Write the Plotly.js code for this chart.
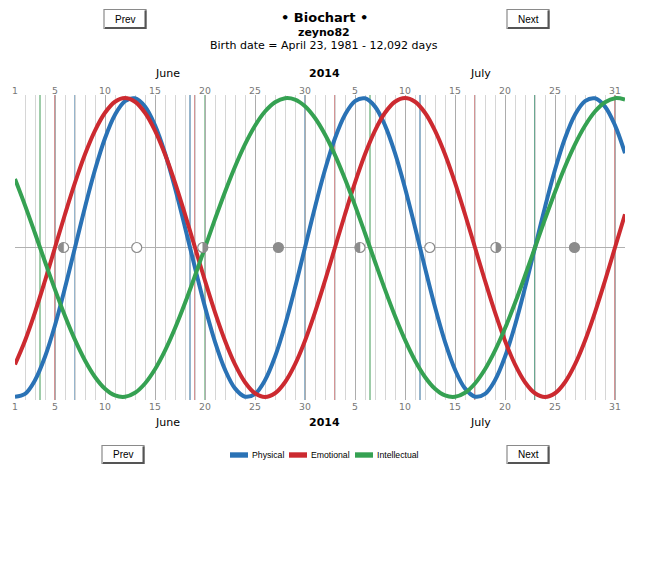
<!DOCTYPE html>
<html>
<head>
<meta charset="utf-8">
<script src="https://cdn.plot.ly/plotly-3.0.1.min.js"></script>
<style>
  html, body { margin: 0; padding: 0; background: #ffffff; }
  #chart { width: 645px; height: 578px; }
</style>
</head>
<body>
<div id="chart"></div>
<script>
// ---------- data ----------
const START_DATE = '2014-06-01';
const DAY_COUNT = 62; // June 1 .. August 1

const physical = [-0.9977,-0.9791,-0.8879,-0.7308,-0.5197,-0.2698,0,0.2698,0.5197,0.7308,0.8879,0.9791,0.9977,0.9423,0.8170,0.6311,0.3984,0.1362,-0.1362,-0.3984,-0.6311,-0.8170,-0.9423,-0.9977,
  -0.9791,-0.8879,-0.7308,-0.5197,-0.2698,0,0.2698,0.5197,0.7308,0.8879,0.9791,0.9977,0.9423,0.8170,0.6311,0.3984,0.1362,-0.1362,-0.3984,-0.6311,-0.8170,-0.9423,-0.9977,
  -0.9791,-0.8879,-0.7308,-0.5197,-0.2698,0,0.2698,0.5197,0.7308,0.8879,0.9791,0.9977,0.9423,0.8170,0.6311];

const emotional = [-0.7818,-0.6235,-0.4339,-0.2225,0,0.2225,0.4339,0.6235,0.7818,0.9010,0.9749,1,0.9749,0.9010,0.7818,0.6235,0.4339,0.2225,0,-0.2225,-0.4339,-0.6235,-0.7818,-0.9010,-0.9749,-1,-0.9749,-0.9010,
  -0.7818,-0.6235,-0.4339,-0.2225,0,0.2225,0.4339,0.6235,0.7818,0.9010,0.9749,1,0.9749,0.9010,0.7818,0.6235,0.4339,0.2225,0,-0.2225,-0.4339,-0.6235,-0.7818,-0.9010,-0.9749,-1,-0.9749,-0.9010,
  -0.7818,-0.6235,-0.4339,-0.2225,0,0.2225];

const intellectual = [0.4582,0.2817,0.0951,-0.0951,-0.2817,-0.4582,-0.6182,-0.7557,-0.8660,-0.9450,-0.9898,-0.9989,-0.9718,-0.9096,-0.8146,-0.6901,-0.5406,-0.3717,-0.1893,0,0.1893,0.3717,0.5406,0.6901,0.8146,0.9096,0.9718,0.9989,0.9898,0.9450,0.8660,0.7557,0.6182,
  0.4582,0.2817,0.0951,-0.0951,-0.2817,-0.4582,-0.6182,-0.7557,-0.8660,-0.9450,-0.9898,-0.9989,-0.9718,-0.9096,-0.8146,-0.6901,-0.5406,-0.3717,-0.1893,0,0.1893,0.3717,0.5406,0.6901,0.8146,0.9096,0.9718,0.9989,0.9898];

const seriesNames = ['Physical', 'Emotional', 'Intellectual'];

const physicalCritical = ['2014-06-07', '2014-06-18 12:00', '2014-06-30', '2014-07-11 12:00', '2014-07-23'];
const emotionalCritical = ['2014-06-05', '2014-06-19', '2014-07-03', '2014-07-17', '2014-07-31'];
const intellectualCritical = ['2014-06-03 12:00', '2014-06-20', '2014-07-06 12:00', '2014-07-23'];

const moonDates = ['2014-06-05 20:39', '2014-06-13 04:11', '2014-06-19 18:39', '2014-06-27 08:08',
                   '2014-07-05 11:59', '2014-07-12 11:25', '2014-07-19 02:08', '2014-07-26 22:42'];
const moonPhases = ['first', 'full', 'last', 'new', 'first', 'full', 'last', 'new'];

const tickDates = ['2014-06-01','2014-06-05','2014-06-10','2014-06-15','2014-06-20','2014-06-25','2014-06-30',
                   '2014-07-05','2014-07-10','2014-07-15','2014-07-20','2014-07-25','2014-07-31'];
const tickLabels = ['1','5','10','15','20','25','30','5','10','15','20','25','31'];

const titleText = '• Biochart •';
const userName = 'zeyno82';
const birthText = 'Birth date = April 23, 1981 - 12,092 days';
const monthLabels = ['June', '2014', 'July'];

// ---------- styles ----------
const COLORS = { Physical: '#2a72b5', Emotional: '#cc2a30', Intellectual: '#35a152' };
const CRIT_COLORS = { Physical: '#2c6a98', Emotional: '#a8292b', Intellectual: '#3e9a55' };
const W = 645, H = 578;
const M = { l: 15, r: 20, t: 95, b: 178 };
const PW = W - M.l - M.r, PH = H - M.t - M.b;
const px2x = px => (px - M.l) / PW;
const py2y = py => (M.t + PH - py) / PH;

// dates for every day of the window
const days = [];
{
  const d0 = new Date(START_DATE + 'T00:00:00Z');
  for (let i = 0; i < DAY_COUNT; i++) {
    const d = new Date(d0.getTime() + i * 86400000);
    days.push(d.toISOString().slice(0, 10));
  }
}

const values = [physical, emotional, intellectual];
const traces = seriesNames.map((name, k) => ({
  type: 'scatter', mode: 'lines', name: name,
  x: days, y: values[k],
  line: { color: COLORS[name], width: 4, shape: 'spline', smoothing: 1 },
  hoverinfo: 'x+y+name', showlegend: false
}));
// helper trace to bind the top axis
traces.push({ type: 'scatter', mode: 'markers', x: moonDates, y: moonDates.map(() => 0),
  xaxis: 'x2', marker: { opacity: 0, size: 1 }, hoverinfo: 'skip', showlegend: false });

const shapes = [];
// critical day lines
[[physicalCritical, 'Physical'], [emotionalCritical, 'Emotional'], [intellectualCritical, 'Intellectual']]
  .forEach(([arr, name]) => arr.forEach(d => shapes.push({
    type: 'line', xref: 'x', yref: 'paper', x0: d, x1: d, y0: 0, y1: 1,
    line: { color: CRIT_COLORS[name], width: 1 }, layer: 'between'
  })));

// moon phase markers
const R = 5;
const MOON_GRAY = '#8c8c8c';
const halfLeft = 'M0,5 L-1.3,4.83 L-2.5,4.33 L-3.54,3.54 L-4.33,2.5 L-4.83,1.3 L-5,0 L-4.83,-1.3 L-4.33,-2.5 L-3.54,-3.54 L-2.5,-4.33 L-1.3,-4.83 L0,-5 Z';
const halfRight = 'M0,5 L1.3,4.83 L2.5,4.33 L3.54,3.54 L4.33,2.5 L4.83,1.3 L5,0 L4.83,-1.3 L4.33,-2.5 L3.54,-3.54 L2.5,-4.33 L1.3,-4.83 L0,-5 Z';
moonDates.forEach((d, i) => {
  const ph = moonPhases[i];
  shapes.push({
    type: 'circle', xref: 'x', yref: 'y', xsizemode: 'pixel', ysizemode: 'pixel',
    xanchor: d, yanchor: 0, x0: -R, x1: R, y0: -R, y1: R,
    fillcolor: ph === 'new' ? MOON_GRAY : '#ffffff',
    line: { color: MOON_GRAY, width: 1.2 }, layer: 'above'
  });
  if (ph === 'first' || ph === 'last') {
    shapes.push({
      type: 'path', xref: 'x', yref: 'y', xsizemode: 'pixel', ysizemode: 'pixel',
      xanchor: d, yanchor: 0, path: ph === 'first' ? halfLeft : halfRight,
      fillcolor: MOON_GRAY, line: { color: MOON_GRAY, width: 0.5 }, layer: 'above'
    });
  }
});

const annotations = [];
const txt = (text, px, py, size, opts = {}) => annotations.push(Object.assign({
  text: text, xref: 'paper', yref: 'paper', x: px2x(px), y: py2y(py),
  xanchor: 'center', yanchor: 'middle', showarrow: false,
  font: { family: 'DejaVu Sans, Verdana, sans-serif', size: size, color: '#000' }
}, opts));

// titles
txt('<b>' + titleText + '</b>', 324, 17.5, 13);
txt('<b>' + userName + '</b>', 324, 32.5, 11);
txt(birthText, 324, 45, 11);

// month labels, top and bottom
const monthPx = [167, 324, 480];
[73.5, 422.5].forEach(py => monthLabels.forEach((m, i) => {
  txt(i === 1 ? '<b>' + m + '</b>' : m, monthPx[i], py, 11);
}));

// buttons
function button(x0, y0, x1, y1, label) {
  shapes.push({ type: 'rect', xref: 'paper', yref: 'paper',
    x0: px2x(x0), x1: px2x(x1), y0: py2y(y1), y1: py2y(y0),
    fillcolor: '#ffffff', line: { color: '#8a8a8a', width: 1.2 }, layer: 'above' });
  shapes.push({ type: 'path', xref: 'paper', yref: 'paper',
    path: 'M' + px2x(x0 + 1) + ',' + py2y(y1 - 0.5) + ' L' + px2x(x1 - 0.5) + ',' + py2y(y1 - 0.5) +
          ' L' + px2x(x1 - 0.5) + ',' + py2y(y0 + 1),
    line: { color: '#555555', width: 2 }, layer: 'above' });
  annotations.push({ text: label, xref: 'paper', yref: 'paper',
    x: px2x((x0 + x1) / 2), y: py2y((y0 + y1) / 2), xanchor: 'center', yanchor: 'middle',
    showarrow: false, font: { family: 'Liberation Sans, Arial, sans-serif', size: 10, color: '#000' } });
}
button(104, 9.5, 146, 28.5, 'Prev');
button(507, 9.5, 549, 28.5, 'Next');
button(102, 445.5, 144, 463.5, 'Prev');
button(507, 445.5, 549, 463.5, 'Next');

// legend (drawn by hand to match the small bar swatches)
const legendPx = [230, 289, 355];
seriesNames.forEach((name, i) => {
  const x0 = legendPx[i];
  shapes.push({ type: 'rect', xref: 'paper', yref: 'paper',
    x0: px2x(x0), x1: px2x(x0 + 18), y0: py2y(457.7), y1: py2y(452.3),
    fillcolor: COLORS[name], line: { width: 0 }, layer: 'above' });
  annotations.push({ text: name, xref: 'paper', yref: 'paper',
    x: px2x(x0 + 20), y: py2y(455), xanchor: 'left', yanchor: 'middle', showarrow: false,
    font: { family: 'Liberation Sans, Arial, sans-serif', size: 8.7, color: '#000' } });
});

const tickFont = { family: 'DejaVu Sans, Verdana, sans-serif', size: 9.3, color: '#777777' };
const xRange = [days[0], days[days.length - 1]];
const layout = {
  width: W, height: H, margin: M,
  paper_bgcolor: '#ffffff', plot_bgcolor: '#ffffff',
  showlegend: false,
  xaxis: {
    type: 'date', range: xRange, side: 'bottom',
    tickmode: 'array', tickvals: tickDates, ticktext: tickLabels, tickfont: tickFont,
    ticks: '', showline: false, zeroline: false,
    showgrid: true, gridcolor: '#adadad', gridwidth: 1,
    minor: { tick0: START_DATE, dtick: 86400000, showgrid: true, gridcolor: '#d6d6d6', gridwidth: 1, ticks: '' },
    fixedrange: true
  },
  xaxis2: {
    type: 'date', range: xRange, overlaying: 'x', side: 'top', anchor: 'y',
    tickmode: 'array', tickvals: tickDates, ticktext: tickLabels, tickfont: tickFont,
    ticklabelstandoff: -2,
    ticks: '', showline: false, zeroline: false, showgrid: false, fixedrange: true
  },
  yaxis: {
    range: [-1.02, 1.02], showticklabels: false, ticks: '', showgrid: false,
    zeroline: true, zerolinecolor: '#b0b0b0', zerolinewidth: 1, showline: false, fixedrange: true
  },
  shapes: shapes,
  annotations: annotations
};

Plotly.newPlot('chart', traces, layout, { displayModeBar: false, staticPlot: false });
</script>
</body>
</html>
